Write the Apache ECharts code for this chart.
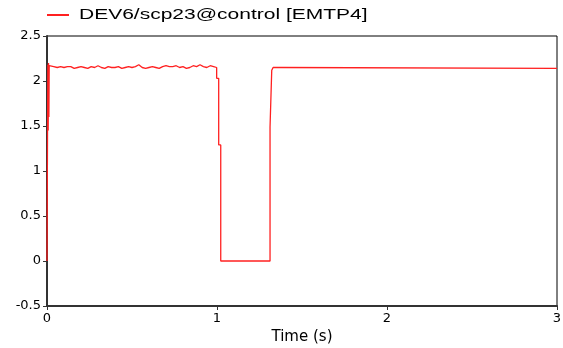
<!DOCTYPE html>
<html>
<head>
<meta charset="utf-8">
<script src="https://cdn.jsdelivr.net/npm/echarts@6/dist/echarts.min.js"></script>
<style>
  html, body { margin: 0; padding: 0; background: #fff; }
  #chart { width: 563px; height: 348px; }
</style>
</head>
<body>
<div id="chart"></div>
<script>
// signal: DEV6/scp23@control
const seriesName = "DEV6/scp23@control [EMTP4]";

// start-up transient
const startT = [0, 0.003, 0.005, 0.007, 0.009, 0.011, 0.013, 0.02];
const startV = [0, 1.40, 2.18, 1.45, 2.20, 1.60, 2.17, 2.16];

// steady part before the dip (noisy around 2.15)
const steadyT = [0.04, 0.06, 0.08, 0.10, 0.12, 0.14, 0.16, 0.18, 0.20, 0.22,
  0.24, 0.26, 0.28, 0.30, 0.32, 0.34, 0.36, 0.38, 0.40, 0.42,
  0.44, 0.46, 0.48, 0.50, 0.52, 0.54, 0.56, 0.58, 0.60, 0.62,
  0.64, 0.66, 0.68, 0.70, 0.72, 0.74, 0.76, 0.78, 0.80, 0.82,
  0.84, 0.86, 0.88, 0.90, 0.92, 0.94, 0.96, 0.98, 0.99];
const steadyV = [2.16, 2.15, 2.16, 2.15, 2.16, 2.16, 2.14, 2.15, 2.16, 2.15,
  2.14, 2.16, 2.15, 2.17, 2.15, 2.14, 2.16, 2.15, 2.15, 2.16,
  2.14, 2.15, 2.16, 2.15, 2.16, 2.18, 2.15, 2.14, 2.15, 2.16,
  2.15, 2.14, 2.16, 2.17, 2.16, 2.16, 2.17, 2.15, 2.16, 2.14,
  2.15, 2.17, 2.16, 2.18, 2.16, 2.15, 2.17, 2.16, 2.15];

// dip and recovery
const dipT = [0.998, 0.998, 1.01, 1.01, 1.022, 1.022, 1.312, 1.312, 1.322, 1.322,
  1.33, 1.34, 1.35, 1.36, 1.38, 1.39, 3.0];
const dipV = [2.15, 2.03, 2.03, 1.29, 1.29, 0, 0, 1.49, 1.49, 2.12,
  2.15, 2.16, 2.15, 2.16, 2.15, 2.14, 2.14];

const xTicks = [0, 1, 2, 3];
const yTicks = [-0.5, 0, 0.5, 1, 1.5, 2, 2.5];

const allT = startT.concat(steadyT, dipT);
const allV = startV.concat(steadyV, dipV);
const data = allT.map((t, i) => [t, allV[i]]);

const chart = echarts.init(document.getElementById("chart"));
const font = "DejaVu Sans, sans-serif";
chart.setOption({
  animation: false,
  backgroundColor: "#fff",
  // legend drawn as a line + wide text, like the original plot
  graphic: [
    {type: "line", shape: {x1: 47, y1: 15, x2: 69, y2: 15},
      style: {stroke: "#ff2020", lineWidth: 2}},
    {type: "text", x: 79, y: 15, scaleX: 1.5,
      style: {text: seriesName, fill: "#000", font: "14px Liberation Sans, Arial, sans-serif",
        verticalAlign: "middle"}}
  ],
  grid: {
    left: 47,
    right: 6,
    top: 36,
    bottom: 42,
    outerBoundsMode: "none",
    show: true,
    borderColor: "#000",
    borderWidth: 1
  },
  xAxis: {
    type: "value",
    min: xTicks[0],
    max: xTicks[xTicks.length - 1],
    interval: 1,
    name: "Time (s)",
    nameLocation: "middle",
    nameGap: 24,
    nameTextStyle: {fontFamily: font, fontSize: 15, color: "#000"},
    axisLine: {onZero: false, lineStyle: {color: "#333", width: 2}},
    axisTick: {length: 4, lineStyle: {color: "#333"}},
    axisLabel: {fontFamily: font, fontSize: 13, color: "#000", margin: 6},
    splitLine: {show: false}
  },
  yAxis: {
    type: "value",
    min: yTicks[0],
    max: yTicks[yTicks.length - 1],
    interval: 0.5,
    axisLine: {show: true, onZero: false, lineStyle: {color: "#333", width: 2}},
    axisTick: {show: true, length: 4, lineStyle: {color: "#333"}},
    axisLabel: {fontFamily: font, fontSize: 13, color: "#000", margin: 6},
    splitLine: {show: false}
  },
  series: [{
    name: seriesName,
    type: "line",
    data: data,
    showSymbol: false,
    color: "#ff2020",
    lineStyle: {color: "#ff2020", width: 1.3}
  }]
});
</script>
</body>
</html>
